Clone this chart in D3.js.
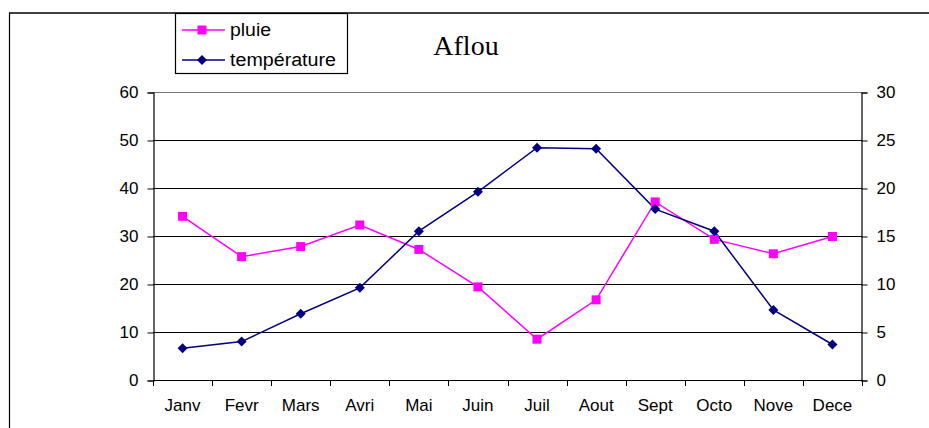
<!DOCTYPE html>
<html><head><meta charset="utf-8">
<script src="https://cdn.jsdelivr.net/npm/d3@7"></script>
<style>body{margin:0;background:#fff}svg{display:block}</style>
</head><body>
<script>
const months = ["Janv","Fevr","Mars","Avri","Mai","Juin","Juil","Aout","Sept","Octo","Nove","Dece"];
const pluie = [34.1,25.7,27.8,32.3,27.2,19.4,8.5,16.7,37.1,29.3,26.3,29.9];
const temperature = [3.3,4.0,6.9,9.6,15.5,19.6,24.2,24.1,17.8,15.5,7.3,3.7];
const leftTicks = [0,10,20,30,40,50,60];
const rightTicks = [0,5,10,15,20,25,30];
const title = "Aflou";
const seriesNames = ["pluie","température"];

const W = 929, H = 428;
const svg = d3.select("body").append("svg").attr("width",W).attr("height",H);
const font = "'Liberation Sans', Arial, sans-serif";

// frame
svg.append("line").attr("x1",9).attr("x2",W).attr("y1",13).attr("y2",13).attr("stroke","#000").attr("stroke-width",1.5);
svg.append("line").attr("x1",9.5).attr("x2",9.5).attr("y1",13).attr("y2",H).attr("stroke","#000").attr("stroke-width",1.2);

const x0 = 153, x1 = 862, yTop = 92, yBot = 380;
const x = d3.scaleBand().domain(months).range([x0,x1]);
const yL = d3.scaleLinear().domain([0,60]).range([yBot,yTop]);
const yR = d3.scaleLinear().domain([0,30]).range([yBot,yTop]);

// gridlines
svg.append("g").selectAll("line").data(leftTicks.filter(d=>d>0)).join("line")
  .attr("x1",x0).attr("x2",x1)
  .attr("y1",d=>Math.round(yL(d))+0.5).attr("y2",d=>Math.round(yL(d))+0.5)
  .attr("stroke",d=>d===60?"#777":"#000").attr("stroke-width",1);

// left axis
const gL = svg.append("g").attr("transform",`translate(${x0+0.5},0.5)`)
  .call(d3.axisLeft(yL).tickValues(leftTicks).tickSize(6).tickPadding(9));
// right axis
const gR = svg.append("g").attr("transform",`translate(${x1-0.5},0.5)`)
  .call(d3.axisRight(yR).tickValues(rightTicks).tickSize(6).tickPadding(9));
// bottom axis
const gB = svg.append("g").attr("transform",`translate(0,${yBot+0.5})`)
  .call(d3.axisBottom(x).tickSize(0).tickPadding(25));
// category boundary ticks
svg.append("g").selectAll("line").data(d3.range(13)).join("line")
  .attr("x1",i=>Math.round(x0+i*x.bandwidth())+0.5).attr("x2",i=>Math.round(x0+i*x.bandwidth())+0.5)
  .attr("y1",yBot).attr("y2",yBot+6).attr("stroke","#000");

[gL,gR,gB].forEach(g=>{
  g.select(".domain").attr("stroke","#000").attr("stroke-width",1.2);
  g.selectAll(".tick line").attr("stroke","#000");
  g.selectAll("text").attr("font-family",font).attr("font-size",17).attr("fill","#000");
});
gB.select(".domain").attr("d",`M${x0},0H${x1}`);
gB.selectAll("text").attr("font-size",17).attr("dy","0.32em");

// lines
const cx = d=>x(d)+x.bandwidth()/2;
const lineP = d3.line().x((d,i)=>cx(months[i])).y(d=>yL(d));
const lineT = d3.line().x((d,i)=>cx(months[i])).y(d=>yR(d));
svg.append("path").datum(pluie).attr("d",lineP).attr("fill","none").attr("stroke","#FF00FF").attr("stroke-width",1.5);
svg.append("path").datum(temperature).attr("d",lineT).attr("fill","none").attr("stroke","#000080").attr("stroke-width",1.5);

const sq = d3.symbol().type(d3.symbolSquare).size(81);
const dm = d3.symbol().type(d3.symbolSquare).size(50);
svg.append("g").selectAll("path").data(pluie).join("path")
  .attr("d",sq).attr("transform",(d,i)=>`translate(${cx(months[i])},${yL(d)})`).attr("fill","#FF00FF");
svg.append("g").selectAll("path").data(temperature).join("path")
  .attr("d",dm).attr("transform",(d,i)=>`translate(${cx(months[i])},${yR(d)}) rotate(45)`).attr("fill","#000080");

// title
svg.append("text").attr("x",466).attr("y",55).attr("text-anchor","middle")
  .attr("font-family","'Liberation Serif','Times New Roman',serif").attr("font-size",28).text(title);

// legend
const lg = svg.append("g");
lg.append("rect").attr("x",175.5).attr("y",13.5).attr("width",172).attr("height",60)
  .attr("fill","#fff").attr("stroke","#000").attr("stroke-width",1.2);
const legItems = [{name:seriesNames[0],color:"#FF00FF",sym:sq,rot:0,y:30,len:41},{name:seriesNames[1],color:"#000080",sym:dm,rot:45,y:60,len:106}];
legItems.forEach(it=>{
  lg.append("line").attr("x1",182).attr("x2",225).attr("y1",it.y).attr("y2",it.y).attr("stroke",it.color).attr("stroke-width",1.5);
  lg.append("path").attr("d",it.sym).attr("transform",`translate(202,${it.y}) rotate(${it.rot})`).attr("fill",it.color);
  lg.append("text").attr("x",230).attr("y",it.y+6).attr("font-family",font).attr("font-size",18)
    .attr("textLength",it.len).attr("lengthAdjust","spacingAndGlyphs").text(it.name);
});
</script>
</body></html>
